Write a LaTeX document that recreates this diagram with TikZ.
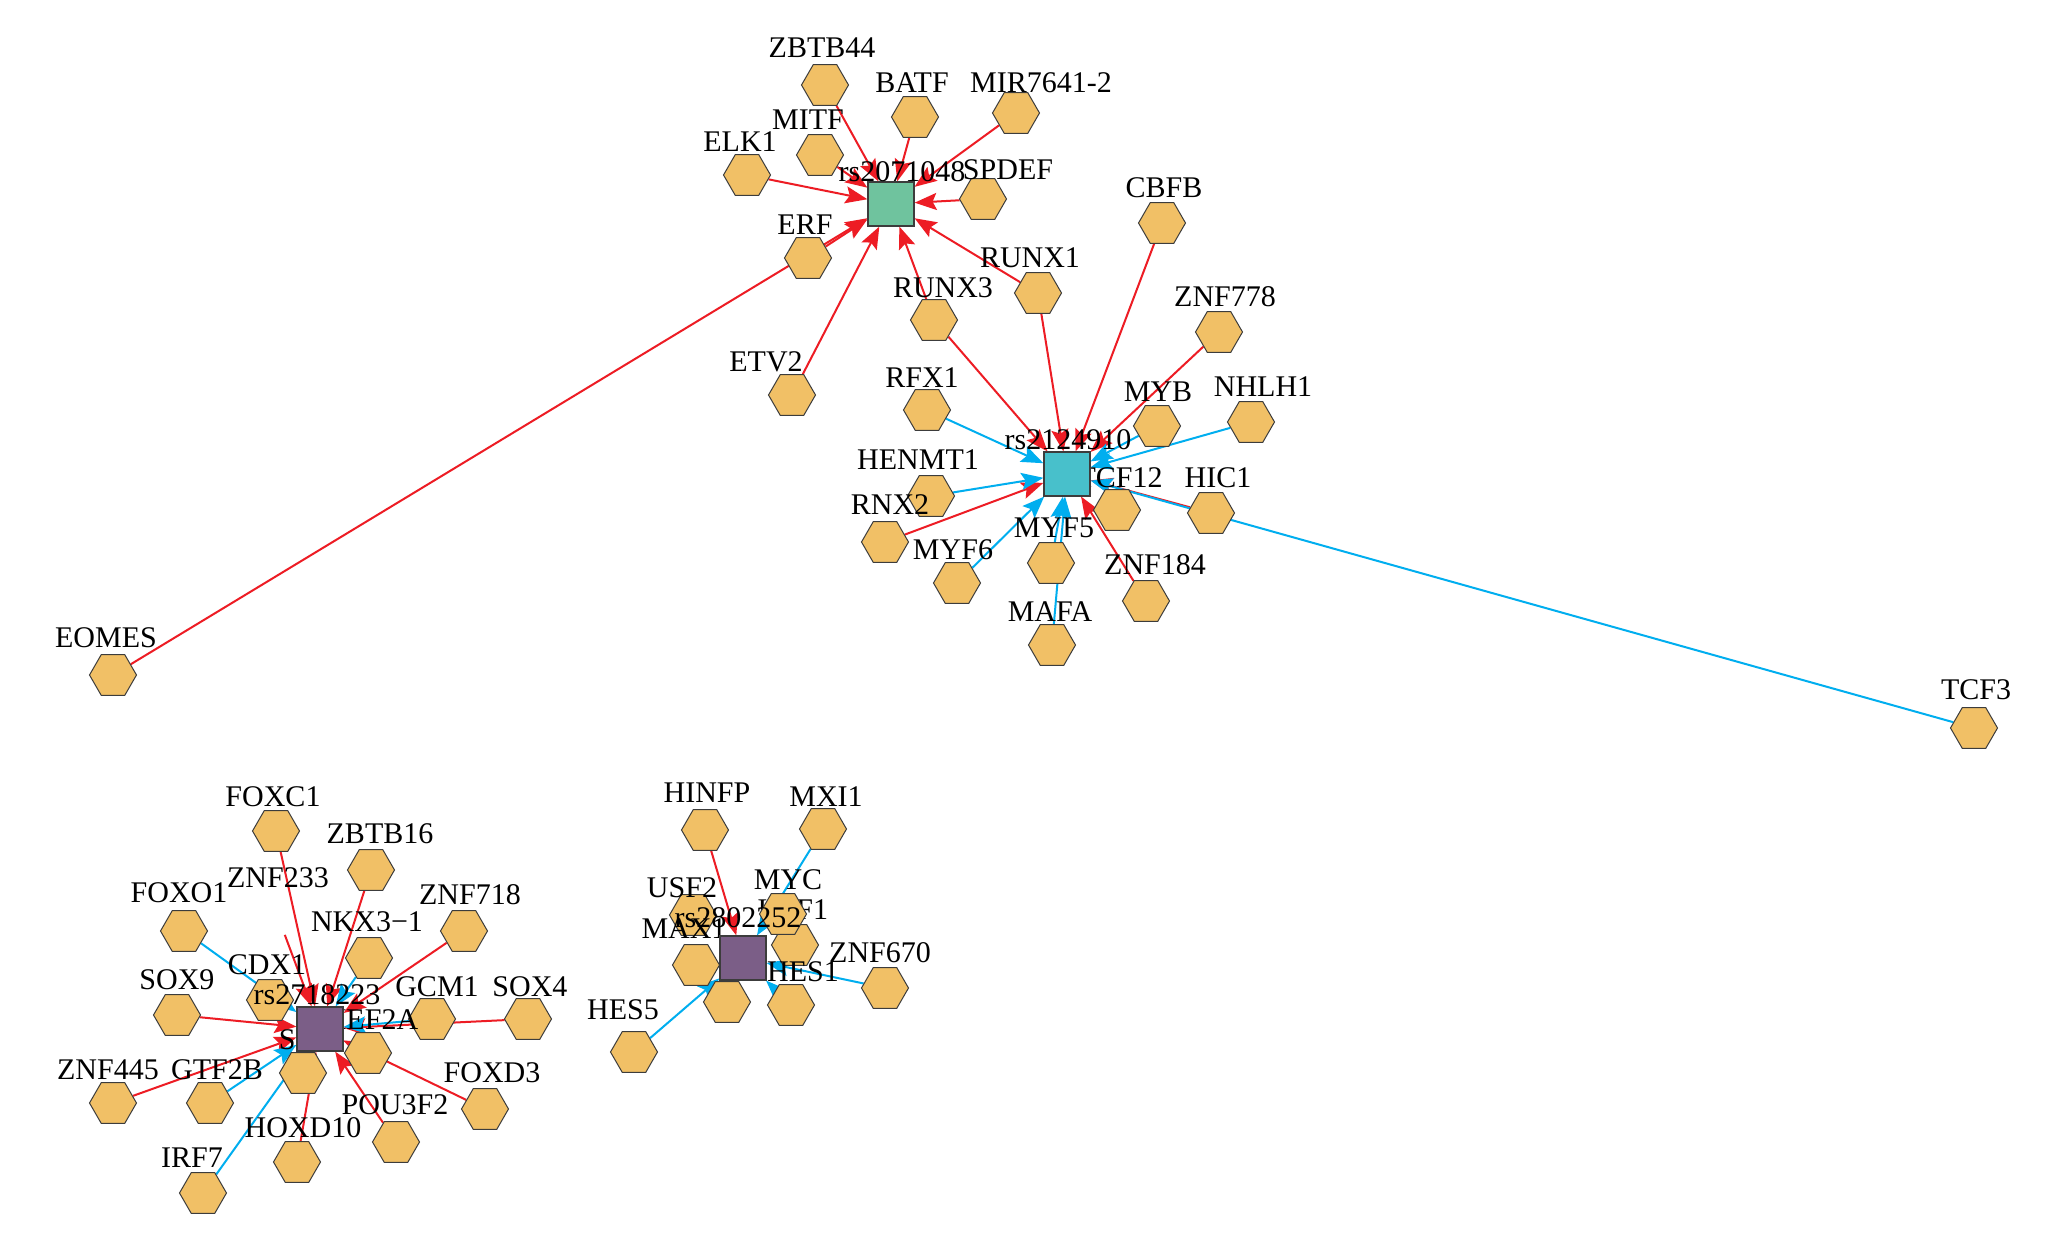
\documentclass[tikz,border=0pt]{standalone}
\usepackage{fontspec}
\setmainfont{Liberation Serif}
\usetikzlibrary{shapes.geometric,arrows.meta}
\definecolor{hexfill}{RGB}{241,192,102}
\definecolor{bord}{RGB}{60,60,60}
\definecolor{cred}{RGB}{237,28,36}
\definecolor{cblue}{RGB}{0,174,239}
\definecolor{sqgreen}{RGB}{111,195,158}
\definecolor{sqteal}{RGB}{72,192,203}
\definecolor{sqpurple}{RGB}{123,94,135}
\pgfdeclarelayer{bglayer}
\pgfdeclarelayer{edgelayer}
\pgfsetlayers{bglayer,edgelayer,main}
\tikzset{
  hexn/.style={regular polygon, regular polygon sides=6, minimum size=23.5pt,
    inner sep=0pt, draw=bord, line width=0.5pt, fill=hexfill},
  ghost/.style={hexn, draw=none, fill=none},
  sqn/.style={rectangle, draw=bord, line width=0.6pt, minimum width=23pt,
    minimum height=22pt, inner sep=0pt},
  lbl/.style={font=\fontsize{15pt}{15pt}\selectfont, inner sep=0pt, text=black},
  redge/.style={draw=cred, line width=1pt, -{Stealth[length=11pt,width=8.5pt,inset=2pt]}},
  bedge/.style={draw=cblue, line width=1pt, -{Stealth[length=11pt,width=8.5pt,inset=2pt]}}
}
\newcommand\hx[6]{\node[hexn] (#1) at (#2,#3) {};\node[lbl] (#1-l) at (#5,#6) {#4};}
\begin{document}
\begin{tikzpicture}[x=0.5pt,y=-0.5pt]
\begin{pgfonlayer}{bglayer}
\fill[white] (0,0) rectangle (2067,1240);
\end{pgfonlayer}
\useasboundingbox (0,0) rectangle (2067,1240);
% ---------- cluster A ----------
\hx{zbtb44}{825}{85}{ZBTB44}{822}{48}
\hx{batf}{915}{117}{BATF}{912}{83}
\hx{mir}{1016}{113}{MIR7641-2}{1041}{83}
\hx{mitf}{820}{155}{MITF}{808}{120}
\hx{elk1}{747}{175}{ELK1}{740}{142}
\hx{spdef}{983}{199}{SPDEF}{1008}{170}
\hx{erf}{808}{258}{ERF}{805}{225}
\hx{runx1}{1038}{293}{RUNX1}{1030}{258}
\hx{runx3}{934}{320}{RUNX3}{943}{288}
\hx{etv2}{792}{395}{ETV2}{766}{362}
\hx{eomes}{113}{675}{EOMES}{106}{638}
\node[sqn, fill=sqgreen] (A) at (891,204) {};
\node[lbl] (A-l) at (902,172) {rs2071048};
% ---------- cluster B ----------
\hx{cbfb}{1162}{223}{CBFB}{1164}{188}
\hx{znf778}{1219}{332}{ZNF778}{1225}{297}
\hx{rfx1}{927}{410}{RFX1}{922}{378}
\hx{myb}{1157}{426}{MYB}{1158}{392}
\hx{nhlh1}{1251}{422}{NHLH1}{1263}{387}
\hx{henmt1}{931}{496}{HENMT1}{918}{460}
\hx{rnx2}{885}{542}{RNX2}{890}{505}
\hx{tcf12}{1117}{510}{TCF12}{1120}{478}
\hx{hic1}{1211}{513}{HIC1}{1218}{478}
\hx{myf5}{1051}{563}{MYF5}{1054}{528}
\hx{myf6}{957}{583}{MYF6}{953}{550}
\hx{znf184}{1146}{601}{ZNF184}{1155}{565}
\hx{mafa}{1052}{645}{MAFA}{1050}{612}
\hx{tcf3}{1974}{728}{TCF3}{1976}{690}
\node[sqn, fill=sqteal] (B) at (1067,474) {};
\node[lbl] (B-l) at (1068,440) {rs2124910};
% ---------- cluster C ----------
\hx{foxc1}{276}{831}{FOXC1}{273}{797}
\hx{zbtb16}{371}{870}{ZBTB16}{380}{834}
\node[ghost] (znf233) at (277,914) {};
\node[lbl] (znf233-l) at (278,878) {ZNF233};
\hx{foxo1}{184}{931}{FOXO1}{179}{893}
\hx{nkx}{369}{958}{NKX3−1}{367}{922}
\hx{znf718}{464}{931}{ZNF718}{470}{895}
\hx{cdx1}{270}{1000}{CDX1}{267}{965}
\hx{sox9}{177}{1015}{SOX9}{177}{980}
\hx{gcm1}{432}{1019}{GCM1}{437}{987}
\hx{sox4}{528}{1019}{SOX4}{530}{987}
\hx{mef2a}{368}{1053}{MEF2A}{369}{1020}
\hx{sp1}{303}{1073}{SP1}{303}{1040}
\hx{znf445}{113}{1103}{ZNF445}{108}{1070}
\hx{gtf2b}{210}{1103}{GTF2B}{217}{1070}
\hx{foxd3}{485}{1109}{FOXD3}{492}{1073}
\hx{pou3f2}{396}{1142}{POU3F2}{395}{1105}
\hx{hoxd10}{297}{1162}{HOXD10}{303}{1128}
\hx{irf7}{203}{1193}{IRF7}{192}{1158}
\node[sqn, fill=sqpurple] (C) at (320,1029) {};
\node[lbl] (C-l) at (317,995) {rs2718223};
% ---------- cluster D ----------
\hx{hinfp}{705}{830}{HINFP}{707}{793}
\hx{mxi1}{823}{829}{MXI1}{826}{797}
\hx{usf2}{693}{915}{USF2}{682}{888}
\hx{usf1}{795}{945}{USF1}{793}{910}
\hx{myc}{783}{914}{MYC}{788}{880}
\hx{max}{696}{965}{MAX1}{684}{929}
\node[hexn] (hx51) at (727,1002) {};
\hx{hes1}{791}{1005}{HES1}{803}{972}
\hx{znf670}{885}{988}{ZNF670}{880}{953}
\hx{hes5}{634}{1052}{HES5}{623}{1010}
\node[sqn, fill=sqpurple] (D) at (743,958) {};
\node[lbl] (D-l) at (738,918) {rs2802252};
% ---------- edges ----------
\begin{pgfonlayer}{edgelayer}
\foreach \s in {zbtb44,batf,mir,mitf,elk1,spdef,erf,runx1,runx3,etv2,eomes}
  \draw[redge] (\s) -- (A);
\foreach \s in {runx3,runx1,cbfb,znf778,rnx2,znf184,hic1}
  \draw[redge] (\s) -- (B);
\foreach \s in {rfx1,myb,nhlh1,henmt1,myf6,myf5,mafa,tcf3}
  \draw[bedge] (\s) -- (B);
\foreach \s in {foxc1,zbtb16,znf233,znf718,sox9,sox4,mef2a,znf445,hoxd10,pou3f2,foxd3}
  \draw[redge] (\s) -- (C);
\foreach \s in {foxo1,nkx,gcm1,gtf2b,irf7}
  \draw[bedge] (\s) -- (C);
\draw[redge] (hinfp) -- (D);
\foreach \s in {mxi1,znf670,hes5,hes1}
  \draw[bedge] (\s) -- (D);
\end{pgfonlayer}
\end{tikzpicture}
\end{document}
